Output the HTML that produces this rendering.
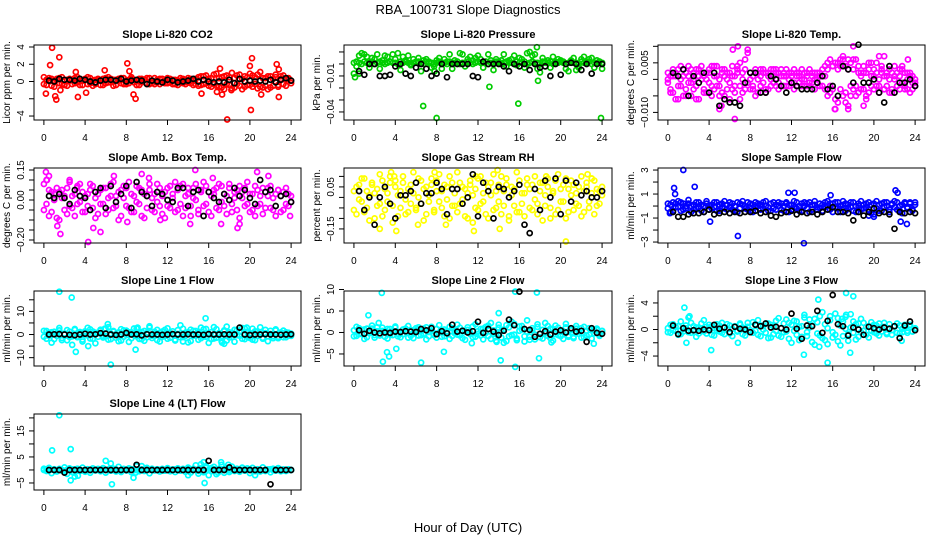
<!DOCTYPE html>
<html><head><meta charset="utf-8"><style>
html,body{margin:0;padding:0;background:#fff;}
svg{display:block;font-family:"Liberation Sans",Arial,sans-serif;}
</style></head><body>
<svg id="chart" width="936" height="540" viewBox="0 0 936 540">
<rect x="0" y="0" width="936" height="540" fill="#fff"/>
<text x="468" y="14" text-anchor="middle" font-size="13">RBA_100731  Slope Diagnostics</text>
<text x="468" y="532" text-anchor="middle" font-size="13">Hour of Day (UTC)</text>
</svg>
<script>
const hours = [0,0.25,0.5,0.75,1,1.25,1.5,1.75,2,2.25,2.5,2.75,3,3.25,3.5,3.75,4,4.25,4.5,4.75,5,5.25,5.5,5.75,6,6.25,6.5,6.75,7,7.25,7.5,7.75,8,8.25,8.5,8.75,9,9.25,9.5,9.75,10,10.25,10.5,10.75,11,11.25,11.5,11.75,12,12.25,12.5,12.75,13,13.25,13.5,13.75,14,14.25,14.5,14.75,15,15.25,15.5,15.75,16,16.25,16.5,16.75,17,17.25,17.5,17.75,18,18.25,18.5,18.75,19,19.25,19.5,19.75,20,20.25,20.5,20.75,21,21.25,21.5,21.75,22,22.25,22.5,22.75,23,23.25,23.5,23.75,24];
const blackHours = [0.5,1,1.5,2,2.5,3,3.5,4,4.5,5,5.5,6,6.5,7,7.5,8,8.5,9,9.5,10,10.5,11,11.5,12,12.5,13,13.5,14,14.5,15,15.5,16,16.5,17,17.5,18,18.5,19,19.5,20,20.5,21,21.5,22,22.5,23,23.5,24];
const xTicks = [0,4,8,12,16,20,24];

// Panel 1: CO2
const co2A = [-0.3,0.2,0.4,-0.5,0.1,0.3,-0.2,0.5,-0.4,0.2,0.1,-0.3,0.4,-0.1,0.3,-0.4,0.2,0.5,-0.2,0.1,-0.3,0.3,0.2,-0.4,0.4,-0.1,0.3,-0.5,0.2,0.1,-0.2,0.4,-0.3,0.2,0.3,-0.1,0.1,-0.4,0.3,0.2,-0.2,0.4,0.1,-0.3,0.2,0.3,-0.1,0.1,-0.2,0.3,0.2,-0.3,0.1,0.4,-0.2,0.2,-0.1,0.3,0.1,-0.3,0.5,-0.4,0.6,-0.2,0.3,-0.6,0.8,-0.5,0.4,-0.7,0.6,-0.3,0.5,-0.8,0.4,0.7,-0.5,0.3,-0.6,0.5,-0.4,0.7,-0.3,0.8,-0.6,0.4,-0.5,0.6,-0.7,0.3,0.5,-0.4,0.6,-0.3,0.2,0.4,-0.2];
const co2B = [0.5,-0.4,0.1,0.3,-0.6,0.2,0.4,-0.3,0.1,-0.5,0.3,0.2,-0.2,0.5,-0.4,0.1,0.3,-0.3,0.4,-0.5,0.2,0.1,-0.4,0.3,-0.2,0.5,-0.1,0.2,-0.4,0.3,0.4,-0.3,0.1,-0.2,0.5,0.2,-0.4,0.3,-0.1,0.2,0.4,-0.3,-0.2,0.4,-0.1,-0.3,0.3,-0.2,0.4,-0.1,-0.3,0.2,-0.4,0.1,0.3,-0.3,0.4,-0.2,-0.4,0.3,-0.5,0.6,-0.3,0.7,-0.5,0.4,-0.3,0.9,-0.6,0.5,-0.9,0.7,-0.4,1.0,-0.7,-0.3,0.8,-0.9,0.6,-0.4,0.9,-0.6,0.5,-0.8,1.1,-0.7,0.4,-0.9,0.6,-0.5,0.8,-0.6,0.3,0.7,-0.5,0.3,0.1];
const co2OutH = [0.8,0.6,1.5,1.6,0.2,1.2,1.1,3.1,3.3,4.1,5.9,8.1,8.3,8.7,8.9,15.3,16.8,17.1,17.8,20.1,20.2,20.0,21.1,22.6,22.8,22.8,18.2,17.3];
const co2OutV = [3.9,1.9,2.8,-1,-1.4,-2.1,-1.7,1.1,-1.8,-1.3,1.3,2.1,1.2,-1.5,-2,-1.4,-1.2,1.5,-4.4,-3.3,2.7,1.8,-1.5,2,1.4,-1.8,-1,-1.5];
const co2Blk = [0.1,0,0.3,0.2,0.2,0.1,0.3,0.2,0,-0.1,0.1,0.2,0.2,0.1,0.3,0,0.1,0.2,0.1,-0.3,0.1,0,-0.1,0.2,0.1,-0.1,0,0.1,0.3,0,0.2,0,-0.1,0,-0.1,0.2,-0.2,0.3,0,0.1,0,0.1,0,0.2,-0.1,0.2,0.4,0.1];

// Panel 2: Pressure
const presA = [0.001,0.002,0.001,0.000,0.002,0.001,0.001,0.002,0.000,0.001,0.002,0.001,0.000,0.001,0.002,0.001,0.001,0.000,0.002,0.001,0.002,0.001,0.000,0.001,0.001,0.002,0.001,0.000,0.002,0.001,0.001,0.000,0.001,0.002,0.001,0.001,0.000,0.002,0.001,0.001,0.002,0.000,0.001,0.001,0.002,0.001,0.000,0.001,0.002,0.001,0.001,0.002,0.000,0.001,0.001,0.002,0.001,0.000,0.001,0.002,0.001,0.001,0.000,0.002,0.001,0.001,0.002,0.000,0.001,0.002,0.001,0.001,0.000,0.002,0.001,0.001,0.002,0.000,0.001,0.001,0.002,0.001,0.000,0.001,0.002,0.001,0.001,0.000,0.002,0.001,0.001,0.002,0.000,0.001,0.001,0.002,0.001];
const presB = [-0.008,-0.002,0.007,0.009,0.008,0.006,-0.003,0.005,0.004,0.008,-0.004,0.003,0.007,0.006,0.002,0.008,0.004,0.009,-0.005,0.006,0.003,0.007,-0.001,0.004,0.002,0.005,-0.006,0.003,0.004,0.002,-0.003,-0.002,0.003,0.005,-0.004,0.004,0.002,0.008,-0.004,0.003,0.002,0.009,0.008,-0.002,0.004,0.006,0.003,0.005,0.007,0.004,-0.003,0.002,0.008,0.003,-0.005,0.004,0.002,0.003,0.008,-0.002,0.003,0.004,0.007,-0.001,0.005,0.004,-0.003,0.009,0.010,0.007,0.008,-0.004,-0.007,0.005,0.002,0.003,-0.003,0.006,0.002,0.004,0.003,0.002,-0.004,-0.006,0.003,0.005,-0.005,-0.003,0.004,0.006,0.002,0.004,0.005,-0.003,0.003,0.002,-0.004];
const presOutH = [0.1,6.7,8.0,15.9,23.9,13.1,17.7,17.8,0.5,7.8];
const presOutV = [-0.011,-0.035,-0.045,-0.033,-0.045,-0.019,0.014,-0.014,-0.008,-0.006];
const presBlk = [-0.006,-0.009,0.000,0.000,-0.010,-0.010,-0.009,-0.002,0.000,-0.008,-0.010,-0.003,0.000,-0.004,-0.010,-0.008,0.000,-0.011,0.000,0.000,0.000,0.000,-0.010,-0.011,0.002,0.000,0.000,0.000,-0.002,-0.006,0.000,-0.002,0.000,-0.005,0.000,-0.003,-0.002,-0.010,0.000,-0.009,0.000,0.001,0.000,-0.005,0.000,-0.008,0.000,0.000];

// Panel 3: Li-820 Temp
const tempA = [-0.001,0.001,-0.004,0.002,-0.006,0.000,0.003,-0.003,0.001,-0.005,0.002,-0.002,0.003,0.000,-0.004,0.002,-0.001,0.004,-0.003,0.001,-0.002,0.003,-0.005,0.000,0.002,-0.003,0.001,0.004,-0.002,0.000,0.006,-0.001,0.002,-0.003,0.003,0.000,-0.002,0.002,-0.004,0.001,0.003,-0.001,0.002,-0.003,0.001,0.002,-0.002,0.000,0.002,-0.001,0.001,0.002,-0.002,0.000,0.001,-0.002,0.002,0.000,-0.001,0.002,-0.002,0.001,0.003,-0.004,0.004,-0.006,0.005,-0.003,0.004,-0.007,0.006,-0.002,0.003,-0.005,0.002,0.001,-0.003,0.002,-0.004,0.001,0.003,-0.002,0.000,0.002,-0.003,0.001,-0.004,0.002,0.000,-0.002,0.003,-0.001,0.002,-0.003,0.001,-0.001,0.000];
const tempB = [0.002,-0.003,0.001,-0.006,0.003,-0.002,0.001,-0.005,0.004,-0.001,-0.003,0.003,-0.006,0.002,0.001,-0.004,0.003,-0.002,0.001,0.004,-0.005,0.002,0.001,-0.003,-0.006,0.004,-0.002,0.002,0.005,-0.004,0.003,0.008,-0.003,0.001,-0.005,0.002,0.003,-0.001,0.002,-0.003,0.000,0.003,-0.002,0.002,0.003,-0.002,0.001,0.002,-0.001,0.003,-0.002,0.001,0.000,0.002,-0.002,0.003,-0.001,0.002,0.000,-0.002,0.003,0.004,-0.005,0.006,-0.003,0.005,-0.007,0.004,0.006,-0.004,0.003,-0.005,0.006,-0.002,0.004,-0.003,0.002,-0.005,0.003,0.005,-0.003,0.002,-0.004,0.003,0.001,-0.002,0.003,-0.004,0.001,0.002,-0.003,0.004,-0.002,0.002,-0.004,0.001,-0.002];
const tempC = [0.000,-0.004,0.003,0.001,-0.002,0.004,-0.005,0.002,-0.001,0.003,0.000,-0.006,0.001,0.004,-0.003,0.000,0.002,-0.005,0.004,-0.002,0.000,-0.004,0.003,0.002,-0.001,0.001,-0.004,0.003,-0.006,0.002,-0.003,0.009,0.000,-0.002,0.002,-0.004,0.001,0.003,-0.003,0.002,-0.002,0.001,0.003,-0.001,-0.002,0.001,0.003,-0.002,0.001,-0.003,0.002,-0.001,0.003,-0.002,0.002,-0.001,0.001,-0.003,0.002,0.001,0.001,-0.003,0.005,-0.002,0.004,-0.009,0.003,0.006,-0.005,0.004,-0.008,0.005,-0.003,0.006,-0.004,0.002,0.004,-0.006,0.005,-0.002,0.001,0.005,-0.002,0.004,-0.003,0.002,0.000,-0.003,0.004,-0.002,0.001,0.003,-0.003,0.000,0.002,-0.003,-0.001];
const tempOutH = [6.3,6.8,6.5,5.2,5.0,17.0,18.0,16.2,20.5,21.0,23.3,17.5,19.0];
const tempOutV = [0.009,0.01,-0.012,-0.008,-0.009,0.007,0.010,-0.009,0.007,0.007,0.006,-0.009,-0.008];
const tempBlk = [0.002,0.001,0.003,-0.005,0.001,-0.001,0.002,-0.004,0.002,-0.008,-0.006,-0.007,-0.007,-0.008,-0.001,0.002,0.002,-0.004,-0.004,0.001,0,-0.002,-0.004,-0.001,-0.002,-0.003,-0.003,-0.003,-0.001,0.001,-0.003,-0.002,-0.005,0.004,0.003,-0.001,0.0105,-0.001,-0.001,0.000,-0.004,-0.007,0.004,-0.004,-0.001,-0.001,0.000,-0.002];

// Panel 4: Amb Box Temp
const ambA = [0.08,-0.02,0.05,-0.06,0.03,-0.09,0.04,0.01,-0.05,0.06,-0.03,0.02,-0.08,0.07,-0.01,0.04,-0.06,0.03,0.08,-0.04,0.01,-0.07,0.05,-0.02,0.06,-0.05,0.02,0.09,-0.03,0.04,-0.08,0.01,0.06,-0.04,0.03,-0.06,0.07,-0.02,0.05,-0.09,0.02,0.08,-0.05,0.03,-0.01,0.06,-0.07,0.04,-0.03,0.07,0.01,-0.06,0.05,-0.02,0.08,-0.04,0.03,-0.08,0.06,0.00,-0.05,0.04,-0.03,0.07,-0.06,0.02,0.05,-0.04,0.08,-0.01,0.03,-0.07,0.06,-0.02,0.04,-0.05,0.07,0.01,-0.03,0.09,-0.06,0.03,-0.08,0.05,-0.02,0.06,-0.04,0.02,0.07,-0.05,0.03,0.05,-0.06,0.04,-0.02,0.03,-0.01];
const ambB = [-0.05,0.10,-0.08,0.04,0.00,0.06,-0.10,0.05,0.02,-0.07,0.09,-0.04,0.03,-0.02,0.08,-0.06,0.02,-0.03,0.05,0.07,-0.09,0.03,-0.02,0.06,-0.07,0.01,0.08,-0.04,0.02,-0.10,0.05,0.07,-0.03,0.09,-0.06,0.02,-0.01,0.06,-0.08,0.03,-0.04,0.05,0.01,-0.06,0.08,-0.03,0.02,-0.09,0.06,-0.04,0.03,0.09,-0.05,0.07,-0.08,0.02,0.06,-0.03,0.01,0.08,-0.07,0.05,0.09,-0.02,0.04,-0.08,0.03,0.06,-0.05,0.07,-0.03,0.02,0.08,-0.06,0.01,0.05,-0.09,0.04,0.06,-0.02,0.03,-0.05,0.07,-0.03,0.02,-0.07,0.04,0.06,-0.04,0.01,-0.08,0.05,0.02,-0.05,0.06,-0.03,0.02];
const ambOutH = [0.2,0.5,0.3,1.6,1.3,2.5,4.3,4.8,5.5,6.8,9.5,10.2,11.3,14.7,14.2,16.4,17.2,18.8,19.0,20.7,21.8,23.9,3.2,8.1];
const ambOutV = [0.14,0.12,0.10,-0.17,-0.13,0.10,-0.21,-0.14,-0.16,0.12,0.13,0.11,-0.10,0.15,-0.12,0.11,-0.12,-0.14,-0.12,0.14,0.12,-0.08,0.06,-0.11];
const ambBlk = [0.02,0.01,0.03,0.01,-0.02,0.05,0.02,0.01,-0.05,0.04,0.06,-0.04,0.07,-0.01,0.03,0.07,-0.04,0.09,0.04,0.02,-0.03,0.04,0.03,0.00,-0.01,0.06,0.06,-0.03,0.04,0.05,-0.08,0.04,0.01,-0.01,0.03,0.00,0.06,0.02,0.05,0.01,-0.02,0.10,0.04,0.05,-0.03,0.02,0.03,-0.01];

// Panel 5: Gas Stream RH
const rhA = [0.03,-0.08,0.06,-0.02,0.09,-0.05,0.01,0.07,-0.10,0.04,-0.03,0.08,-0.06,0.02,0.10,-0.04,0.05,-0.09,0.03,0.07,-0.01,-0.07,0.06,0.02,-0.05,0.09,-0.03,0.04,-0.08,0.01,0.06,-0.06,0.08,-0.02,0.03,-0.09,0.05,0.10,-0.04,0.02,-0.07,0.07,-0.01,0.04,-0.10,0.06,0.01,-0.05,0.09,-0.03,0.02,-0.08,0.05,0.07,-0.06,0.03,-0.02,0.10,-0.04,0.06,-0.09,0.01,0.04,-0.07,0.08,-0.03,0.02,0.09,-0.05,0.06,-0.01,-0.08,0.03,0.07,-0.04,0.05,-0.10,0.02,0.08,-0.06,0.04,-0.02,0.09,-0.07,0.01,0.06,-0.03,0.05,-0.09,0.03,0.07,-0.05,0.02,0.08,-0.04,0.03,0.05];
const rhB = [-0.06,0.05,-0.01,0.09,-0.07,0.03,-0.11,0.06,0.02,-0.04,0.11,-0.09,0.04,-0.02,0.07,-0.12,0.08,0.01,-0.05,0.10,-0.08,0.04,-0.03,0.12,-0.06,0.00,0.08,-0.11,0.05,-0.02,0.09,-0.07,0.03,0.11,-0.05,0.06,-0.01,-0.10,0.07,-0.04,0.12,-0.03,0.05,-0.09,0.02,0.08,-0.12,0.04,-0.06,0.10,-0.02,0.07,-0.10,0.01,0.11,-0.05,0.06,-0.08,0.03,0.09,-0.11,0.05,-0.04,0.12,-0.07,0.02,-0.09,0.06,0.04,-0.06,0.10,-0.03,0.07,-0.11,0.01,0.09,-0.05,0.03,-0.08,0.11,-0.02,0.06,-0.10,0.04,0.08,-0.06,0.02,-0.04,0.10,-0.07,0.05,-0.02,0.09,-0.08,0.04,-0.03,0.01];
const rhOutH = [3.6,3.9,4.1,7.8,13.9,11.6,11.8,20.5,22.6,23.0,2.5,6.2,8.9,14.1,18.6];
const rhOutV = [0.12,0.10,-0.16,0.12,0.13,-0.16,0.10,-0.21,0.11,0.09,-0.15,-0.13,-0.13,-0.15,0.10];
const rhBlk = [0.03,-0.06,0.00,-0.13,0.00,0.05,-0.03,-0.10,0.01,0.01,0.03,0.07,-0.03,0.02,0.02,0.07,0.04,-0.08,0.04,0.04,-0.03,0.00,0.11,-0.09,0.07,0.03,-0.10,0.05,0.04,0.00,0.03,0.06,-0.13,-0.17,0.04,-0.06,0.08,0.00,0.09,-0.08,0.08,-0.02,0.07,0.01,0.03,0.00,0.00,0.03];

// Panel 6: Sample Flow
const sfA = [-0.2,0.1,-0.4,0.2,-0.1,0.3,-0.3,0.0,0.2,-0.5,0.1,-0.2,0.3,-0.4,0.0,0.2,-0.3,0.1,-0.1,0.3,-0.4,0.2,-0.2,0.1,0.3,-0.3,0.0,-0.5,0.2,0.1,-0.2,0.3,-0.4,0.1,-0.1,0.2,-0.3,0.3,0.0,-0.4,0.2,-0.2,0.1,0.3,-0.3,0.0,0.2,-0.5,0.1,-0.1,0.3,-0.4,0.2,0.0,-0.2,0.3,-0.3,0.1,-0.1,0.2,-0.4,0.3,0.0,-0.3,0.2,-0.1,0.3,-0.5,0.1,0.2,-0.2,0.3,-0.4,0.0,0.2,-0.3,0.1,-0.1,0.3,-0.6,0.2,-0.2,0.1,-0.4,0.3,0.0,-0.3,0.2,-0.1,0.3,-0.4,0.1,0.2,-0.2,0.3,-0.3,0.1];
const sfB = [0.2,-0.5,0.3,-0.1,0.4,-0.4,0.2,-0.2,0.5,0.0,-0.3,0.3,-0.1,0.1,-0.5,0.4,0.0,-0.2,0.3,-0.4,0.1,-0.1,0.4,-0.3,-0.1,0.2,-0.4,0.3,-0.2,0.4,0.0,-0.3,0.2,-0.5,0.3,0.0,0.1,-0.2,0.4,-0.1,-0.4,0.3,-0.3,0.0,0.2,-0.4,0.3,0.1,-0.3,0.4,-0.2,0.0,-0.4,0.3,0.2,-0.5,0.1,0.4,-0.3,-0.2,0.1,-0.1,0.4,0.2,-0.5,0.3,-0.2,0.0,0.4,-0.4,0.1,-0.1,0.3,-0.5,0.0,0.4,-0.2,0.2,-0.3,0.1,-0.7,0.4,-0.4,0.2,-0.1,0.3,-0.5,0.1,0.4,-0.3,0.0,-0.6,0.3,-0.1,0.2,-0.4,0.3];
const sfOutH = [1.5,0.6,0.7,2.6,4.1,6.8,13.2,11.7,12.3,22.1,22.6,23.2,0.2,15.8,22.3,20.0,19.5];
const sfOutV = [3.0,1.5,1.0,1.6,-1.3,-2.5,-3.1,1.1,1.1,1.3,-1.3,-1.5,-0.6,0.9,1.1,-0.9,-0.8];
const sfBlk = [-0.5,-0.9,-0.9,-0.7,-0.6,-0.6,-0.5,-0.3,-0.7,-0.6,-0.5,-0.6,-0.5,-0.6,-0.5,-0.5,-0.4,-0.6,-0.5,-0.8,-0.9,-0.6,-0.5,-0.4,-0.7,-0.5,-0.6,-0.5,-0.7,-0.5,-0.3,-0.1,-0.5,-0.5,-0.6,-1.2,-0.5,-0.8,-0.5,-0.2,-0.6,-0.5,-0.7,-1.9,-0.5,-0.6,-0.5,-0.6];

// Panel 7: Line 1 Flow
const l1A = [-1.0,1.5,-0.5,1.0,-2.0,0.5,1.8,-1.5,0.3,-2.5,1.2,-0.8,2.0,-1.2,0.6,-3.0,1.4,-0.4,2.2,-1.8,0.8,-1.0,1.6,-0.6,2.4,-2.2,0.4,1.2,-1.4,0.9,-2.6,1.8,-0.2,1.0,-1.6,2.6,-0.8,0.5,-2.0,1.5,-1.2,3.0,-0.5,1.2,-2.4,0.8,-1.0,2.0,-1.8,0.6,1.4,-2.2,0.3,-1.2,2.5,-0.6,1.0,-2.8,1.6,-0.4,0.8,-1.6,2.2,-1.0,0.4,-2.0,3.2,-1.4,0.6,-0.8,1.8,-2.6,0.9,-1.2,2.0,-0.3,1.2,-1.8,2.6,-1.0,0.5,-2.2,1.4,-0.6,1.0,-1.4,2.0,-0.8,0.3,-1.6,1.8,-1.0,0.6,-1.2,1.0,-0.5,0.4];
const l1B = [1.6,-1.8,0.8,-3.5,1.2,-0.6,2.8,-2.4,0.4,1.9,-1.1,-4.5,2.4,-0.9,1.1,-2.2,0.7,2.9,-1.7,1.3,-3.8,0.5,2.1,-1.3,-0.7,3.2,-2.0,1.5,0.2,-2.9,2.3,-1.0,1.7,-3.2,0.9,-0.4,2.6,-1.9,1.1,-2.7,0.6,3.6,-1.5,0.4,2.0,-3.0,1.3,-0.7,2.7,-1.4,0.3,-2.6,1.9,4.0,-1.1,0.8,-3.4,2.1,-0.5,1.5,-2.3,3.0,-0.9,2.4,-3.6,1.0,-1.7,2.3,-0.2,-2.8,1.4,3.4,-1.3,0.7,-3.1,1.9,-0.5,2.8,-2.0,1.1,-1.5,2.5,-2.4,1.3,3.1,-1.8,0.6,-2.9,1.6,-0.8,2.2,-1.6,0.9,1.7,-1.2,0.8,-0.6];
const l1OutH = [1.5,2.7,3.1,4.3,6.2,6.5,8.9,9.1,15.7,17.3,19.7,17.5,13.5,5.9];
const l1OutV = [18.5,16,-7.5,-5,4.5,-13,-6.5,3,7,-3.5,3,-4,-3,2.5];
const l1Blk = [0,0.1,0.2,0,-0.1,-0.3,0,0.3,0,0.1,0.6,0.4,0,-0.2,0,0.7,0,0.1,-0.4,0.1,0,0,-0.1,0,0.2,0,0,0.1,0,0,-0.1,0.2,0,0,0.1,0,0,3,0,-0.2,0,0,0.1,0,0,-0.1,0,0.1];

// Panel 8: Line 2 Flow
const l2A = [0.5,-0.8,1.0,-0.3,0.7,-1.1,0.2,0.9,-0.6,1.2,-0.2,0.4,-1.0,0.8,-0.5,0.3,1.1,-0.9,0.1,-0.4,0.9,-1.2,0.6,-0.1,1.0,-0.7,0.3,-0.3,1.2,-0.9,0.5,-0.6,0.8,0.0,-1.0,0.7,-0.2,1.3,-0.8,0.4,-0.5,1.1,-1.3,0.2,0.6,-0.4,1.4,-1.0,0.3,-0.7,0.9,-0.1,1.6,-1.5,0.5,-0.3,1.8,-1.2,0.7,-2.0,1.2,-0.6,2.0,-1.4,0.4,1.5,-0.9,0.2,-1.7,1.0,-0.5,1.3,-1.1,0.6,-0.2,1.5,-1.3,0.8,-0.4,1.1,-0.9,0.3,1.2,-0.7,0.5,-1.0,0.9,-0.3,1.0,-1.1,0.4,-0.5,0.8,-0.2,0.6,-0.4,0.3];
const l2B = [-0.9,1.3,-0.4,0.6,-1.5,0.9,-0.2,1.6,-1.2,0.3,-0.7,1.1,0.4,-1.4,0.8,-0.6,1.4,-0.3,-1.1,0.7,0.2,1.5,-0.8,-1.3,0.5,1.2,-0.6,0.9,-1.6,0.1,1.3,-0.4,-1.2,1.7,0.6,-0.9,0.3,-1.5,1.0,-0.2,1.8,-0.7,0.5,-1.7,1.2,0.0,-1.1,1.9,-0.4,0.8,-1.6,1.3,-0.8,2.2,-0.3,-1.9,1.1,0.4,-2.4,1.7,-0.9,2.5,-0.5,-1.8,1.4,0.7,-2.1,2.8,-1.0,0.5,-1.6,1.9,-0.3,-1.4,2.2,-0.8,0.9,-1.9,1.6,-0.6,0.4,-1.5,2.0,-1.0,0.7,-1.3,1.5,0.2,-1.2,1.3,-0.7,1.0,-1.4,0.5,0.9,-0.8,0.4];
const l2OutH = [2.7,2.8,3.2,3.4,4.1,1.4,6.5,8.7,14,14.2,15.6,15.6,17.7,17.9,19.1,23.2,11.4,2.4,13.8];
const l2OutV = [9.2,-6.8,-4.6,-5.6,-3.8,4,-7,-4.5,4.5,-6.5,9.5,-8,9.3,-6,-2.3,-2.6,-2.5,2.2,-2.2];
const l2Blk = [0.5,-0.3,0.4,0,-0.2,0,-0.1,0.2,0.1,0.3,0.2,0.1,0.8,0.5,1.0,-0.4,0.3,-0.2,1.8,0.2,0.4,0,0.3,2.5,-0.1,0.8,0.2,-0.6,0.4,3.0,1.7,9.5,0.8,0.6,-1.0,-0.3,0.3,-0.5,0.2,0.5,0.0,1.0,0.2,0.4,-2.2,1.0,-0.1,-0.3];

// Panel 9: Line 3 Flow
const l3A = [0.2,-0.5,0.8,-0.2,0.5,-0.7,0.1,0.6,-0.4,1.0,-0.1,0.3,-0.6,0.9,-0.3,0.4,0.7,-0.8,0.2,-0.1,0.6,-0.5,0.3,0.8,-0.6,0.1,0.5,-0.3,0.9,-0.7,0.2,0.4,-0.4,1.1,-0.2,-0.8,0.6,0.0,-0.5,0.9,-1.2,0.4,1.3,-0.9,0.2,-0.4,1.5,-1.4,0.7,-0.2,1.2,-1.6,0.5,1.8,-1.0,0.3,-1.9,1.6,-0.6,2.0,-1.3,0.8,-2.2,1.4,-0.4,2.4,-1.8,0.6,-1.0,1.9,-0.7,0.3,1.2,-1.5,0.9,-0.4,1.0,-0.8,0.5,-0.2,0.7,-0.6,0.9,-0.3,0.4,-0.7,0.8,-0.1,0.5,-0.5,0.6,-0.4,0.3,-0.2,0.7,-0.3,0.2];
const l3B = [-0.4,0.7,-0.1,0.4,-0.8,1.2,-0.3,0.2,1.8,-0.5,0.5,-1.1,0.3,0.1,1.4,-0.6,0.2,0.5,-0.9,0.8,-0.3,1.0,-0.7,0.1,0.6,-1.0,0.4,-0.2,0.7,0.3,-0.9,1.0,-0.1,-0.5,0.8,1.4,-1.0,0.5,0.9,-1.3,0.7,-0.7,-0.2,1.7,-1.1,0.9,-0.3,1.0,-2.0,1.3,-0.8,0.4,-1.1,2.2,-0.4,1.5,0.6,-2.3,1.1,-0.9,2.6,-1.6,0.2,2.0,-1.2,-0.8,1.7,-2.4,1.2,0.1,-1.7,2.3,-0.5,0.8,-1.1,1.6,-0.2,0.4,-1.2,1.1,-0.4,0.6,-0.9,0.3,1.0,-0.5,0.2,-0.8,0.5,0.9,-0.6,0.1,0.7,-0.5,0.4,-0.3,0.1];
const l3OutH = [1.6,1.8,4.2,14.6,15.5,17.3,17.7,18,13.2,14.7,2.1,6.8,17.3,16.9,22.7];
const l3OutV = [3.3,-2,-3.1,4.5,-5,5.5,-3.5,5,-3.8,-2.6,2.0,-2.0,2.2,1.6,-1.7];
const l3Blk = [0.6,-0.7,0.2,-0.2,-0.1,-0.2,0.0,-0.1,0.7,0.1,0.3,-0.4,0.4,0.1,0.0,-0.4,0.7,0.5,0.9,0.3,0.4,0.2,0.0,2.4,0.1,-1.4,0.6,0.5,2.8,-0.5,1.3,5.2,0.8,0.5,-0.9,0.3,0.0,-0.8,0.4,0.2,0.0,0.3,0.1,0.5,-1.3,0.6,1.2,-0.1];

// Panel 10: Line 4 (LT) Flow
const l4A = [0.0,0.3,-0.2,0.1,0.0,-0.1,0.2,0.0,-0.3,0.1,0.0,0.2,-0.1,0.0,0.1,-0.2,0.0,0.3,-0.1,0.0,0.1,0.0,-0.2,0.2,0.0,-0.1,0.1,0.0,0.2,-0.2,0.0,0.1,-0.1,0.0,0.3,0.0,-0.1,0.1,0.0,-0.2,0.1,0.0,0.2,-0.1,0.0,0.1,-0.3,0.0,0.1,0.0,-0.1,0.2,0.0,-0.2,0.1,0.0,0.3,-0.1,0.0,0.1,-0.4,0.6,-0.2,0.8,0.0,-0.5,0.3,0.0,-0.3,0.2,0.0,0.1,-0.1,0.0,0.2,-0.2,0.0,0.1,-0.1,0.0,0.2,-0.3,0.0,0.1,0.0,-0.2,0.1,0.0,0.3,-0.1,0.0,0.1,0.0,-0.2,0.1,0.0,0.0];
const l4B = [0.5,-0.4,0.8,-1.2,0.3,-0.6,0.4,-0.3,1.0,-1.5,0.6,-0.8,0.2,0.5,-0.4,0.9,-0.7,0.3,-1.1,0.6,-0.2,0.4,-0.5,0.7,-1.0,0.2,-0.3,0.5,-0.6,1.2,-0.8,0.4,-0.2,0.6,-0.9,0.3,1.5,-0.5,0.2,-0.4,0.8,-1.3,0.5,-0.2,0.3,-0.6,0.4,-0.3,0.7,-0.5,0.2,-0.8,0.6,-0.3,0.4,-0.7,0.9,-1.0,0.5,1.8,-1.4,2.2,-0.9,1.5,-2.0,0.7,1.2,-1.6,0.4,2.0,-1.1,0.6,-0.8,1.3,-0.4,0.5,-0.7,0.9,-0.3,0.6,-1.2,0.8,-0.5,0.3,-0.6,1.0,-0.4,0.2,-0.9,0.5,-0.3,0.7,-0.5,0.2,-0.4,0.3,0.0];
const l4OutH = [1.5,0.8,2.6,2.6,3.0,3.3,6.0,6.5,6.6,8.7,9.5,14,15.5,15.6,17.2,17.9,20.5,16.9,8.9,2.9];
const l4OutV = [21,7.5,8,-4,-2.5,-2.2,3.5,2.5,-5.5,-3,1.5,-2,3,-5,3,2,-2,-1,-1,-1];
const l4Blk = [0,0,0,-1,0,0,0,0,0,0,0,0,0,0,0,0,0,2,0,0,0,0,0,0,0,0,0,0,0,0,0,3.5,0,0,0,1,0,0,0,0,0,0,0,-5.5,0,0,0,0];

const yTicks1 = [4,2,0,-2,-4];       const yLabels1 = ['4','2','0','','\u22124'];
const yTicks2 = [0.01,0,-0.01,-0.02,-0.03,-0.04]; const yLabels2 = ['','','\u22120.01','','','\u22120.04'];
const yTicks3 = [0.010,0.005,0,-0.005,-0.010]; const yLabels3 = ['','0.005','','','\u22120.010'];
const yTicks4 = [0.15,0.10,0.05,0,-0.05,-0.10,-0.15,-0.20]; const yLabels4 = ['0.15','','','0.00','','','','\u22120.20'];
const yTicks5 = [0.10,0.05,0,-0.05,-0.10,-0.15]; const yLabels5 = ['','0.05','','','','\u22120.15'];
const yTicks6 = [3,2,1,0,-1,-2,-3]; const yLabels6 = ['3','','1','','\u22121','','\u22123'];
const yTicks7 = [15,10,5,0,-5,-10]; const yLabels7 = ['','10','','0','','\u221210'];
const yTicks8 = [10,5,0,-5]; const yLabels8 = ['10','5','0','\u22125'];
const yTicks9 = [4,2,0,-2,-4]; const yLabels9 = ['4','','0','','\u22124'];
const yTicks10 = [20,15,10,5,0,-5]; const yLabels10 = ['','15','','5','','\u22125'];

const NS = 'http://www.w3.org/2000/svg';
const svg = document.getElementById('chart');
const COLS = [[34,301],[344,612],[658,925]];
const ROWS = [[45,120],[168,243],[291,366],[414,490]];

function mk(tag, attrs, parent) {
  const e = document.createElementNS(NS, tag);
  for (const k in attrs) e.setAttribute(k, attrs[k]);
  parent.appendChild(e);
  return e;
}

function drawPanel(p) {
  const [x0, x1] = COLS[p.col];
  const [y0, y1] = ROWS[p.row];
  const g = mk('g', {}, svg);
  
  
  const xs = h => x0 + (h + 0.96) / 25.92 * (x1 - x0);
  const ys = v => y0 + (p.yTop - v) / (p.yTop - p.yBot) * (y1 - y0);
  const pts = mk('g', {fill: 'none', 'stroke-width': 1.7}, g);
  
  
  function dots(H, V, color, nm) {
    const n = Math.min(H.length, V.length);
    for (let i = 0; i < n; i++) {
      const c = mk('circle', {cx: xs(H[i]).toFixed(1), cy: ys(V[i]).toFixed(1), r: 2.5, stroke: color}, pts);
      
      
    }
  }
  p.series.forEach(s => dots(hours, s, p.color, p.name + '-point'));
  dots(p.outH, p.outV, p.color, p.name + '-outlier');
  dots(blackHours, p.blk, '#000', p.name + '-hourly-point');
  const box = mk('rect', {x: x0, y: y0, width: x1 - x0, height: y1 - y0, fill: 'none', stroke: '#000', 'stroke-width': 1}, g);
  
  
  xTicks.forEach(t => {
    const x = xs(t);
    const tk = mk('line', {x1: x, x2: x, y1: y1, y2: y1 + 5, stroke: '#000'}, g);
    
    
    const tl = mk('text', {x: x, y: y1 + 21, 'text-anchor': 'middle', 'font-size': 10}, g);
    tl.textContent = String(t);
    
    
  });
  p.yTicks.forEach((t, i) => {
    const y = ys(t);
    const tk = mk('line', {x1: x0 - 5, x2: x0, y1: y, y2: y, stroke: '#000'}, g);
    
    
    if (p.yLabels[i]) {
      const tl = mk('text', {x: x0 - 10, y: y, 'text-anchor': 'middle', 'font-size': 10, transform: `rotate(-90 ${x0 - 10} ${y})`}, g);
      tl.textContent = p.yLabels[i];
      
      
    }
  });
  const yc = (y0 + y1) / 2;
  const yl = mk('text', {x: x0 - 24, y: yc, 'text-anchor': 'middle', 'font-size': 10, transform: `rotate(-90 ${x0 - 24} ${yc})`}, g);
  yl.textContent = p.ylab;
  
  
  const tt = mk('text', {x: (x0 + x1) / 2, y: y0 - 7, 'text-anchor': 'middle', 'font-size': 11, 'font-weight': 'bold'}, g);
  tt.textContent = p.title;
  
  
}

const panels = [
  {name:'co2', col:0,row:0,title:'Slope Li-820 CO2', ylab:'Licor ppm per min.', color:'#ff0000', yTop:4.23, yBot:-4.46, yTicks:yTicks1, yLabels:yLabels1, series:[co2A,co2B], outH:co2OutH, outV:co2OutV, blk:co2Blk},
  {name:'pressure', col:1,row:0,title:'Slope Li-820 Pressure', ylab:'kPa per min.', color:'#00cd00', yTop:0.0158, yBot:-0.0467, yTicks:yTicks2, yLabels:yLabels2, series:[presA,presB], outH:presOutH, outV:presOutV, blk:presBlk},
  {name:'li820-temp', col:2,row:0,title:'Slope Li-820 Temp.', ylab:'degrees C per min.', color:'#ff00ff', yTop:0.0104, yBot:-0.0123, yTicks:yTicks3, yLabels:yLabels3, series:[tempA,tempB,tempC], outH:tempOutH, outV:tempOutV, blk:tempBlk},
  {name:'amb-box-temp', col:0,row:1,title:'Slope Amb. Box Temp.', ylab:'degrees C per min.', color:'#ff00ff', yTop:0.16, yBot:-0.215, yTicks:yTicks4, yLabels:yLabels4, series:[ambA,ambB], outH:ambOutH, outV:ambOutV, blk:ambBlk},
  {name:'gas-stream-rh', col:1,row:1,title:'Slope Gas Stream RH', ylab:'percent per min.', color:'#ffff00', yTop:0.14, yBot:-0.217, yTicks:yTicks5, yLabels:yLabels5, series:[rhA,rhB], outH:rhOutH, outV:rhOutV, blk:rhBlk},
  {name:'sample-flow', col:2,row:1,title:'Slope Sample Flow', ylab:'ml/min per min.', color:'#0000ff', yTop:3.17, yBot:-3.08, yTicks:yTicks6, yLabels:yLabels6, series:[sfA,sfB], outH:sfOutH, outV:sfOutV, blk:sfBlk},
  {name:'line1-flow', col:0,row:2,title:'Slope Line 1 Flow', ylab:'ml/min per min.', color:'#00ffff', yTop:18.8, yBot:-13.6, yTicks:yTicks7, yLabels:yLabels7, series:[l1A,l1B], outH:l1OutH, outV:l1OutV, blk:l1Blk},
  {name:'line2-flow', col:1,row:2,title:'Slope Line 2 Flow', ylab:'ml/min per min.', color:'#00ffff', yTop:9.65, yBot:-7.8, yTicks:yTicks8, yLabels:yLabels8, series:[l2A,l2B], outH:l2OutH, outV:l2OutV, blk:l2Blk},
  {name:'line3-flow', col:2,row:2,title:'Slope Line 3 Flow', ylab:'ml/min per min.', color:'#00ffff', yTop:5.8, yBot:-5.5, yTicks:yTicks9, yLabels:yLabels9, series:[l3A,l3B], outH:l3OutH, outV:l3OutV, blk:l3Blk},
  {name:'line4-flow', col:0,row:3,title:'Slope Line 4 (LT) Flow', ylab:'ml/min per min.', color:'#00ffff', yTop:21.5, yBot:-7.7, yTicks:yTicks10, yLabels:yLabels10, series:[l4A,l4B], outH:l4OutH, outV:l4OutV, blk:l4Blk}
];
panels.forEach(drawPanel);
</script>
</body></html>
